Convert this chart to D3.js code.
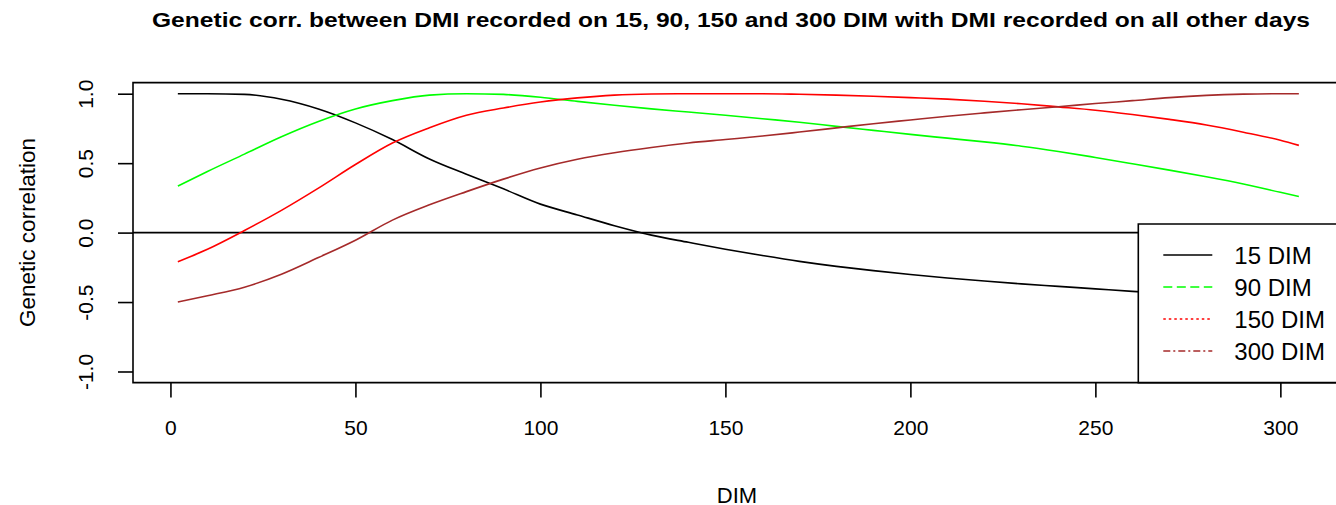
<!DOCTYPE html>
<html>
<head>
<meta charset="utf-8">
<script src="https://cdn.jsdelivr.net/npm/d3@7"></script>
<style>
  body { margin: 0; background: #fff; }
  text { font-family: "Liberation Sans", Arial, sans-serif; }
</style>
</head>
<body>
<div id="chart"></div>
<script>
// days in milk at which the correlations were read
const days = [2, 10, 20, 30, 40, 50, 60, 70, 80, 90, 100, 110, 120, 130, 140, 150,
  160, 170, 180, 190, 200, 210, 220, 230, 240, 250, 260, 270, 280, 290, 300, 305];

const corr15 = [1.0, 1.0, 0.995, 0.96, 0.89, 0.79, 0.67, 0.53, 0.42, 0.315, 0.205, 0.127,
  0.05, -0.018, -0.07, -0.12, -0.165, -0.207, -0.243, -0.274, -0.302, -0.327, -0.349, -0.369,
  -0.387, -0.405, -0.423, -0.439, -0.453, -0.465, -0.475, -0.48];
const corr90 = [0.335, 0.44, 0.565, 0.69, 0.80, 0.89, 0.95, 0.99, 1.0, 0.995, 0.975, 0.945,
  0.917, 0.891, 0.868, 0.845, 0.82, 0.795, 0.765, 0.736, 0.707, 0.68, 0.653, 0.622,
  0.584, 0.541, 0.496, 0.45, 0.402, 0.35, 0.29, 0.26];
const corr150 = [-0.21, -0.12, 0.015, 0.16, 0.32, 0.49, 0.645, 0.755, 0.845, 0.897, 0.94, 0.97,
  0.99, 0.998, 1.0, 1.0, 1.0, 0.996, 0.99, 0.982, 0.972, 0.961, 0.946, 0.928,
  0.905, 0.881, 0.85, 0.815, 0.775, 0.723, 0.665, 0.628];
const corr300 = [-0.5, -0.455, -0.393, -0.30, -0.18, -0.055, 0.09, 0.20, 0.295, 0.385, 0.465, 0.528,
  0.575, 0.613, 0.645, 0.67, 0.695, 0.724, 0.754, 0.784, 0.811, 0.838, 0.862, 0.885,
  0.906, 0.929, 0.95, 0.972, 0.988, 0.997, 1.0, 1.0];

const seriesNames = ['15 DIM', '90 DIM', '150 DIM', '300 DIM'];
const seriesValues = [corr15, corr90, corr150, corr300];
const seriesColors = ['#000000', '#00ff00', '#ff0000', '#a52a2a'];
const legendDash = [null, '9,4.5', '2.5,3', '7,3,2,3'];

const xTickValues = [0, 50, 100, 150, 200, 250, 300];
const yTickValues = [-1.0, -0.5, 0.0, 0.5, 1.0];

const titleText = 'Genetic corr. between DMI recorded on 15, 90, 150 and 300 DIM with DMI recorded on all other days';
const xLabel = 'DIM';
const yLabel = 'Genetic correlation';

const width = 1336;
const height = 505;
const margin = {left: 133, top: 82.6, bottom: 122.4};

// the R plot region runs a little past the right edge of the picture
const plotRight = 1343.7;
const innerWidth = plotRight - margin.left;
const visibleWidth = width - margin.left;
const innerHeight = height - margin.top - margin.bottom;

const xScale = d3.scaleLinear()
  .domain([-10.12, 317.12])
  .range([0, innerWidth]);

const yScale = d3.scaleLinear()
  .domain([-1.08, 1.08])
  .range([innerHeight, 0]);

const svg = d3.select('#chart').append('svg')
  .attr('width', width)
  .attr('height', height);

svg.append('text')
  .attr('x', 731)
  .attr('y', 27)
  .attr('text-anchor', 'middle')
  .attr('textLength', 1158)
  .attr('lengthAdjust', 'spacingAndGlyphs')
  .style('font-weight', 'bold')
  .style('font-size', '21px')
  .text(titleText);

const g = svg.append('g')
  .attr('transform', `translate(${margin.left},${margin.top})`);

const xAxis = d3.axisBottom(xScale)
  .tickValues(xTickValues)
  .tickFormat(d => String(d))
  .tickSize(15)
  .tickPadding(22);

const yAxis = d3.axisLeft(yScale)
  .tickValues(yTickValues)
  .tickFormat(d => d.toFixed(1))
  .tickSize(15)
  .tickPadding(0);

const xAxisG = g.append('g')
  .attr('transform', `translate(0,${innerHeight})`)
  .call(xAxis);

const yAxisG = g.append('g').call(yAxis);

[xAxisG, yAxisG].forEach(a => {
  a.select('.domain').remove();
  a.selectAll('line').attr('stroke', '#000').attr('stroke-width', 1.6);
  a.selectAll('text')
    .attr('fill', '#000')
    .style('font-size', '21px')
    .style('font-family', '"Liberation Sans", Arial, sans-serif');
});

xAxisG.selectAll('text').attr('dy', '0.71em');

// R style rotated y tick labels
yAxisG.selectAll('text')
  .attr('x', 0)
  .attr('dy', 0)
  .attr('text-anchor', 'middle')
  .attr('transform', 'translate(-40,0) rotate(-90)');

// zero reference line
g.append('line')
  .attr('x1', 0)
  .attr('x2', visibleWidth)
  .attr('y1', yScale(0))
  .attr('y2', yScale(0))
  .attr('stroke', '#000')
  .attr('stroke-width', 1.6);

const line = d3.line()
  .x((d, i) => xScale(days[i]))
  .y(d => yScale(d))
  .curve(d3.curveMonotoneX);

g.selectAll('.linePath')
  .data(seriesValues)
  .enter()
  .append('path')
  .attr('class', 'linePath')
  .attr('fill', 'none')
  .attr('stroke', (d, i) => seriesColors[i])
  .attr('stroke-width', 1.6)
  .attr('d', d => line(d));

// plot box (its right side is off the picture)
g.append('path')
  .attr('d', `M${visibleWidth},0H0V${innerHeight}H${visibleWidth}`)
  .attr('fill', 'none')
  .attr('stroke', '#000')
  .attr('stroke-width', 1.6);

// legend, bottom right
const legendLeft = 1138.3;
const legendTop = 224;
const legendG = svg.append('g')
  .attr('transform', `translate(${legendLeft},${legendTop})`);

const legendW = width - legendLeft;
const legendH = margin.top + innerHeight - legendTop;

legendG.append('rect')
  .attr('width', legendW)
  .attr('height', legendH)
  .attr('fill', '#fff');

legendG.append('path')
  .attr('d', `M${legendW},0H0V${legendH}H${legendW}`)
  .attr('fill', 'none')
  .attr('stroke', '#000')
  .attr('stroke-width', 1.6);

const legendRows = legendG.selectAll('.legendRow')
  .data(seriesNames)
  .enter()
  .append('g')
  .attr('class', 'legendRow')
  .attr('transform', (d, i) => `translate(0,${31 + i * 32})`);

legendRows.append('line')
  .attr('x1', 25)
  .attr('x2', 74)
  .attr('stroke', (d, i) => seriesColors[i])
  .attr('stroke-width', 1.6)
  .attr('stroke-dasharray', (d, i) => legendDash[i]);

legendRows.append('text')
  .attr('x', 96)
  .attr('dy', '0.36em')
  .style('font-size', '24px')
  .text(d => d);

svg.append('text')
  .attr('x', 737)
  .attr('y', 503)
  .attr('text-anchor', 'middle')
  .style('font-size', '22px')
  .text(xLabel);

svg.append('text')
  .attr('transform', 'translate(35,232.5) rotate(-90)')
  .attr('text-anchor', 'middle')
  .style('font-size', '22.5px')
  .text(yLabel);
</script>
</body>
</html>
